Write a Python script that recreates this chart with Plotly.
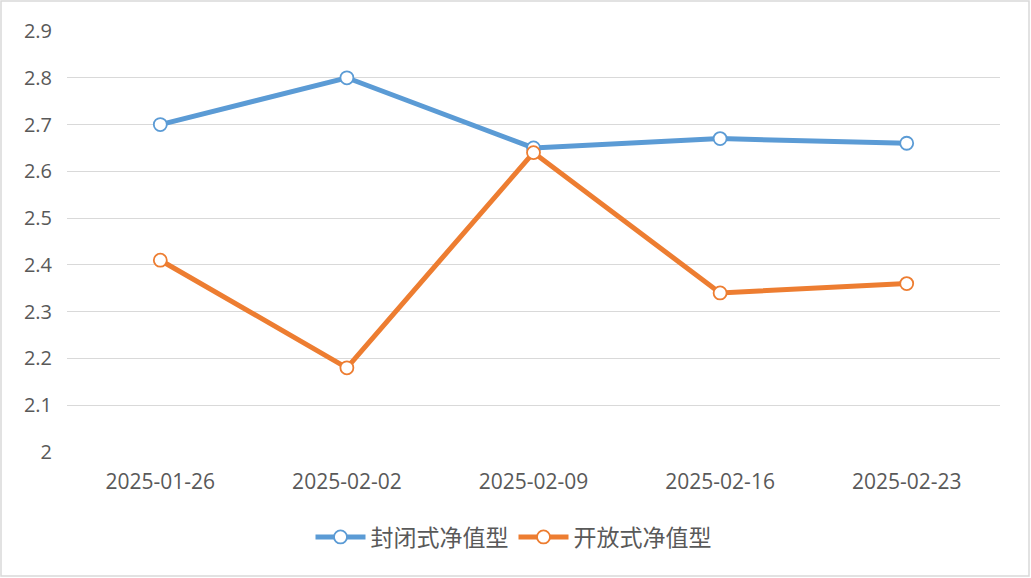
import plotly.graph_objects as go

categories = ["2025-01-26", "2025-02-02", "2025-02-09", "2025-02-16", "2025-02-23"]
closed_nav = [2.70, 2.80, 2.65, 2.67, 2.66]
open_nav = [2.41, 2.18, 2.64, 2.34, 2.36]
series_names = ["封闭式净值型", "开放式净值型"]
y_ticks = [2, 2.1, 2.2, 2.3, 2.4, 2.5, 2.6, 2.7, 2.8, 2.9]
y_tick_labels = ["2", "2.1", "2.2", "2.3", "2.4", "2.5", "2.6", "2.7", "2.8", "2.9"]

W, H = 1031, 578
L, R, T, B = 67, 31, 31, 126
pw, ph = W - L - R, H - T - B

fig = go.Figure()
for name, vals, color in [(series_names[0], closed_nav, "#5B9BD5"),
                          (series_names[1], open_nav, "#ED7D31")]:
    fig.add_trace(go.Scatter(
        x=categories, y=vals, name=name, mode="lines+markers",
        line=dict(color=color, width=5),
        marker=dict(symbol="circle", size=13, color="white",
                    line=dict(color=color, width=1.8)),
    ))

fam = "'Open Sans', 'Noto Sans CJK SC', sans-serif"
fig.update_layout(
    width=W, height=H,
    margin=dict(l=L, r=R, t=T, b=B),
    paper_bgcolor="white", plot_bgcolor="white",
    font=dict(family=fam, color="#595959", size=16),
    xaxis=dict(type="category", range=[-0.5, 4.5], showgrid=False,
               showline=False, zeroline=False, ticks="",
               ticklabelstandoff=15,
               tickfont=dict(family=fam, size=21, color="#595959")),
    yaxis=dict(range=[2, 2.9], tickvals=y_ticks, ticktext=y_tick_labels,
               showgrid=True, gridcolor="#d9d9d9", gridwidth=1.2,
               zeroline=False, showline=False, ticks="",
               ticklabelstandoff=14,
               tickfont=dict(family=fam, size=20, color="#595959")),
    legend=dict(orientation="h", x=0.5 - 20 / pw, xanchor="center",
                y=(452 - 537) / ph, yanchor="middle",
                font=dict(size=23, color="#595959",
                          family="'Noto Sans CJK SC', sans-serif"),
                itemwidth=50, tracegroupgap=0),
    shapes=[dict(type="rect", xref="paper", yref="paper",
                 x0=(1 - L) / pw, x1=(W - 2 - L) / pw,
                 y0=(H - B - (H - 2)) / ph, y1=(H - B - 1) / ph,
                 line=dict(color="#d9d9d9", width=1.5), fillcolor="rgba(0,0,0,0)",
                 layer="below")],
)

fig.write_html("out.html", config={"displayModeBar": False},
               post_script="document.body.style.margin='0';")
